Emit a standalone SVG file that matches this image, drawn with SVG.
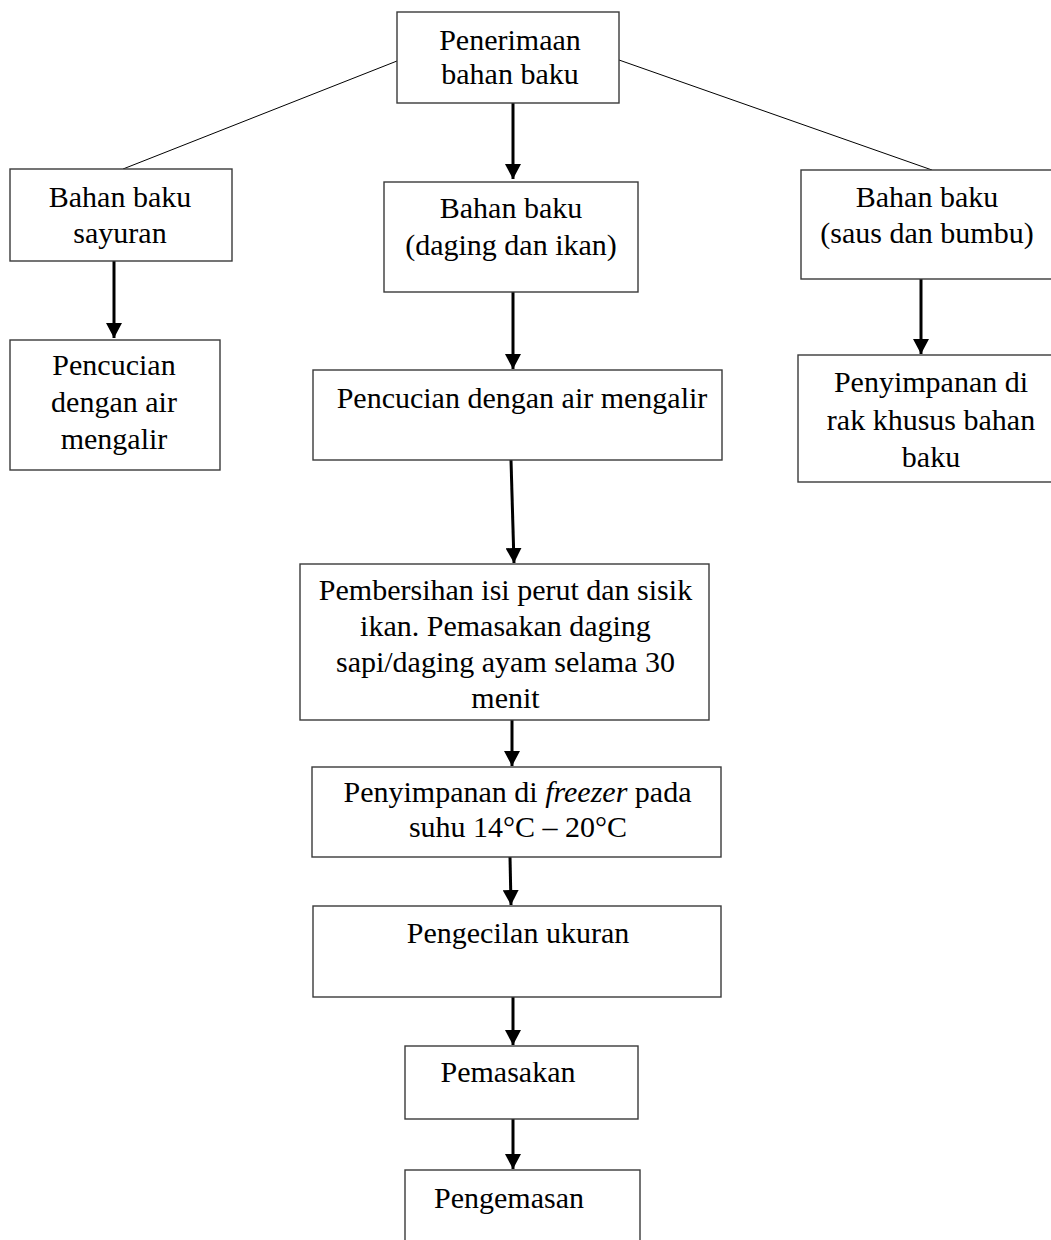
<svg xmlns="http://www.w3.org/2000/svg" width="1051" height="1240" viewBox="0 0 1051 1240">
<style>
.box{fill:#fff;stroke:#3a3a3a;stroke-width:1.4}
.t{font-family:"Liberation Serif","Times New Roman",serif;font-size:30px;fill:#000;text-anchor:middle}
.arr{stroke:#000;stroke-width:3;fill:none}
.ln{stroke:#000;stroke-width:1;fill:none}
</style>
<defs>
<marker id="ah" markerUnits="userSpaceOnUse" markerWidth="16" markerHeight="16" refX="15" refY="8" orient="auto">
<path d="M0,0 L15,8 L0,16 z" fill="#000"/>
</marker>
</defs>
<rect width="1051" height="1240" fill="#fff"/>
<g id="connectors">
<line class="ln" x1="397" y1="61" x2="123" y2="169"/>
<line class="ln" x1="619" y1="60" x2="932" y2="170"/>
<line class="arr" x1="513" y1="103" x2="513" y2="179" marker-end="url(#ah)"/>
<line class="arr" x1="114" y1="261" x2="114" y2="338" marker-end="url(#ah)"/>
<line class="arr" x1="513" y1="292" x2="513" y2="369" marker-end="url(#ah)"/>
<line class="arr" x1="921" y1="279" x2="921" y2="354" marker-end="url(#ah)"/>
<line class="arr" x1="511" y1="460" x2="514" y2="563" marker-end="url(#ah)"/>
<line class="arr" x1="512" y1="720" x2="512" y2="766" marker-end="url(#ah)"/>
<line class="arr" x1="510" y1="857" x2="511" y2="905" marker-end="url(#ah)"/>
<line class="arr" x1="513" y1="997" x2="513" y2="1045" marker-end="url(#ah)"/>
<line class="arr" x1="513" y1="1119" x2="513" y2="1169" marker-end="url(#ah)"/>
</g>
<g id="n-penerimaan">
<rect class="box" x="397" y="12" width="222" height="91"/>
<text class="t" x="510" y="50">Penerimaan</text>
<text class="t" x="510" y="84">bahan baku</text>
</g>
<g id="n-sayuran">
<rect class="box" x="10" y="169" width="222" height="92"/>
<text class="t" x="120" y="207">Bahan baku</text>
<text class="t" x="120" y="243">sayuran</text>
</g>
<g id="n-pencucian-sayur">
<rect class="box" x="10" y="340" width="210" height="130"/>
<text class="t" x="114" y="375">Pencucian</text>
<text class="t" x="114" y="412">dengan air</text>
<text class="t" x="114" y="449">mengalir</text>
</g>
<g id="n-daging">
<rect class="box" x="384" y="182" width="254" height="110"/>
<text class="t" x="511" y="218">Bahan baku</text>
<text class="t" x="511" y="255">(daging dan ikan)</text>
</g>
<g id="n-saus">
<rect class="box" x="801" y="170" width="260" height="109"/>
<text class="t" x="927" y="207">Bahan baku</text>
<text class="t" x="927" y="243">(saus dan bumbu)</text>
</g>
<g id="n-penyimpanan-rak">
<rect class="box" x="798" y="355" width="260" height="127"/>
<text class="t" x="931" y="392">Penyimpanan di</text>
<text class="t" x="931" y="430">rak khusus bahan</text>
<text class="t" x="931" y="467">baku</text>
</g>
<g id="n-pencucian-daging">
<rect class="box" x="313" y="370" width="409" height="90"/>
<text class="t" x="522" y="408">Pencucian dengan air mengalir</text>
</g>
<g id="n-pembersihan">
<rect class="box" x="300" y="564" width="409" height="156"/>
<text class="t" x="505.5" y="600">Pembersihan isi perut dan sisik</text>
<text class="t" x="505.5" y="636">ikan. Pemasakan daging</text>
<text class="t" x="505.5" y="672">sapi/daging ayam selama 30</text>
<text class="t" x="505.5" y="708">menit</text>
</g>
<g id="n-freezer">
<rect class="box" x="312" y="767" width="409" height="90"/>
<text class="t" x="517.5" y="802">Penyimpanan di <tspan font-style="italic">freezer</tspan> pada</text>
<text class="t" x="518" y="837">suhu 14°C – 20°C</text>
</g>
<g id="n-pengecilan">
<rect class="box" x="313" y="906" width="408" height="91"/>
<text class="t" x="518" y="943">Pengecilan ukuran</text>
</g>
<g id="n-pemasakan">
<rect class="box" x="405" y="1046" width="233" height="73"/>
<text class="t" x="508" y="1082">Pemasakan</text>
</g>
<g id="n-pengemasan">
<rect class="box" x="405" y="1170" width="235" height="90"/>
<text class="t" x="509" y="1208">Pengemasan</text>
</g>
</svg>
